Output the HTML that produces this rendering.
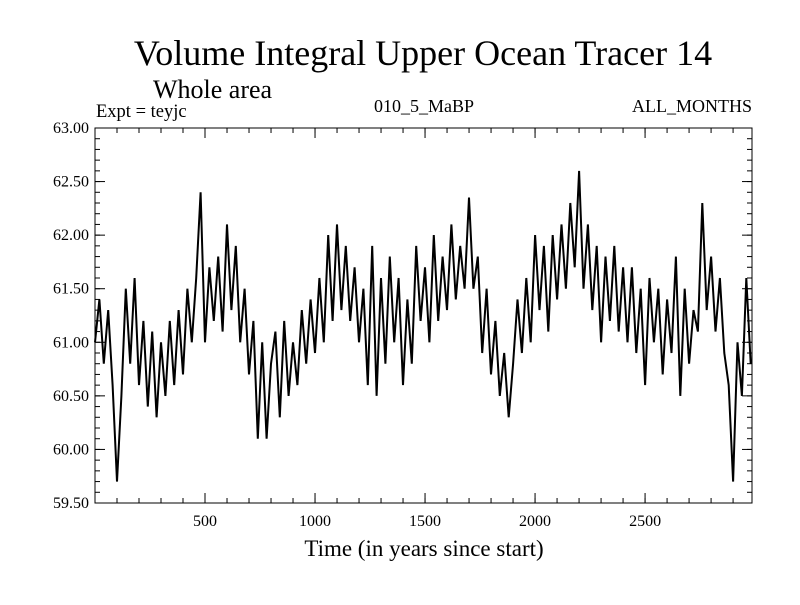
<!DOCTYPE html>
<html><head><meta charset="utf-8"><style>
body{margin:0;background:#fff;}
svg text{font-family:"Liberation Serif",serif;fill:#000;}
</style></head><body>
<svg id="chart" width="800" height="600">
<rect width="800" height="600" fill="#fff"/>
<text x="423" y="65" font-size="36" text-anchor="middle">Volume Integral Upper Ocean Tracer 14</text>
<text x="153" y="98" font-size="26">Whole area</text>
<text x="96" y="117" font-size="18.5">Expt = teyjc</text>
<text x="424" y="112" font-size="18" text-anchor="middle">010_5_MaBP</text>
<text x="752" y="112" font-size="18" text-anchor="end">ALL_MONTHS</text>
<text x="424" y="556" font-size="23" text-anchor="middle">Time (in years since start)</text>
<g id="axes"></g>
<path id="series" fill="none" stroke="#000" stroke-width="2" stroke-linejoin="miter"/>
<rect x="95" y="128" width="657" height="375" fill="none" stroke="#000" stroke-width="1"/>
</svg>
<script>
const yTicks=[59.5,60.0,60.5,61.0,61.5,62.0,62.5,63.0];
const yTickLabels=["59.50","60.00","60.50","61.00","61.50","62.00","62.50","63.00"];
const xTicks=[500,1000,1500,2000,2500];
const xTickLabels=["500","1000","1500","2000","2500"];
const step=20;
const values=[
61.0,61.4,60.8,61.3,60.6,59.7,60.5,61.5,60.8,61.6,60.6,61.2,60.4,61.1,60.3,61.0,
60.5,61.2,60.6,61.3,60.7,61.5,61.0,61.6,62.4,
61.0,61.7,61.2,61.8,61.1,62.1,61.3,61.9,
61.0,61.5,60.7,61.2,60.1,61.0,60.1,60.8,
61.1,60.3,61.2,60.5,61.0,60.6,61.3,60.8,61.4,60.9,
61.6,61.0,62.0,61.2,62.1,61.3,61.9,61.2,61.7,61.0,
61.5,60.6,61.9,60.5,61.6,60.8,61.8,61.0,61.6,60.6,
61.4,60.8,61.9,61.2,61.7,
61.0,62.0,61.2,61.8,61.3,62.1,61.4,61.9,61.5,62.35,
61.5,61.8,60.9,61.5,60.7,61.2,60.5,60.9,60.3,60.8,
61.4,60.9,61.6,61.0,62.0,61.3,61.9,61.1,62.0,61.4,
62.1,61.5,62.3,61.7,62.6,
61.5,62.1,61.3,61.9,61.0,61.8,61.2,61.9,61.1,61.7,
61.0,61.7,60.9,61.5,60.6,61.6,61.0,61.5,60.7,61.4,
60.9,61.8,60.5,61.5,60.8,61.3,61.1,62.3,
61.3,61.8,61.1,61.6,60.9,60.6,59.7,61.0,60.5,61.6,60.8];
const X0=95,X1=752,Y0=503,Y1=128,XMIN=0,XMAX=2986,YMIN=59.5,YMAX=63.0;
function xs(v){return X0+(v-XMIN)/(XMAX-XMIN)*(X1-X0);}
function ys(v){return Y0-(v-YMIN)/(YMAX-YMIN)*(Y0-Y1);}
const NS="http://www.w3.org/2000/svg";
const axes=document.getElementById('axes');
function line(x1,y1,x2,y2,name){const l=document.createElementNS(NS,'line');l.setAttribute('x1',x1);l.setAttribute('y1',y1);l.setAttribute('x2',x2);l.setAttribute('y2',y2);l.setAttribute('stroke','#000');l.setAttribute('stroke-width','1');


axes.appendChild(l);}
function text(x,y,s,anchor,name){const t=document.createElementNS(NS,'text');t.setAttribute('x',x);t.setAttribute('y',y);t.setAttribute('font-size','16');t.setAttribute('text-anchor',anchor);t.textContent=s;


axes.appendChild(t);}
for(let v=59.6;v<63.0;v+=0.1){const y=ys(v);line(X0,y,X0+5,y,'y-minor-tick');line(X1,y,X1-5,y,'y-minor-tick');}
yTicks.forEach((v,i)=>{const y=ys(v);line(X0,y,X0+10,y,'y-major-tick');line(X1,y,X1-10,y,'y-major-tick');text(X0-6,y+5,yTickLabels[i],'end','y-tick-label');});
for(let v=100;v<XMAX;v+=100){const x=xs(v);line(x,Y0,x,Y0-5,'x-minor-tick');line(x,Y1,x,Y1+5,'x-minor-tick');}
xTicks.forEach((v,i)=>{const x=xs(v);line(x,Y0,x,Y0-10,'x-major-tick');line(x,Y1,x,Y1+10,'x-major-tick');text(x,Y0+23,xTickLabels[i],'middle','x-tick-label');});
let d='';values.forEach((v,i)=>{d+=(i?'L':'M')+xs(i*step).toFixed(1)+','+ys(v).toFixed(1);});
document.getElementById('series').setAttribute('d',d);
</script>
</body></html>
